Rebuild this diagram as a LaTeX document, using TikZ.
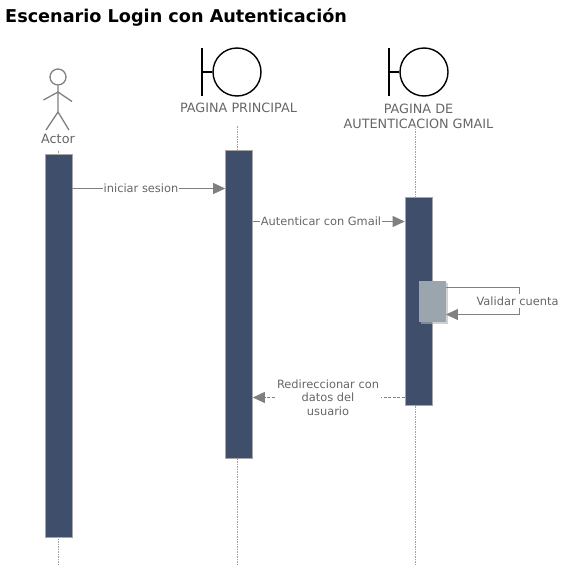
\documentclass[tikz,border=0pt]{standalone}
\usepackage{fontspec}
\setmainfont{DejaVu Sans}
\usetikzlibrary{arrows.meta,positioning,shadows}
\definecolor{barblue}{HTML}{3F4F6B}
\definecolor{blockgray}{HTML}{9AA5AE}
\definecolor{linegray}{HTML}{808080}
\definecolor{textgray}{HTML}{666666}
\tikzset{
    bar/.style={rectangle, draw=linegray!70, line width=0.6pt, fill=barblue, minimum width=27pt, inner sep=0pt},
    lifeline/.style={draw=linegray!75, dashed, dash pattern=on 1.5pt off 1pt, line width=0.8pt},
    msg/.style={draw=linegray, line width=0.8pt},
    msgarrow/.style={msg, -{Triangle[length=12pt,width=11pt]}},
    lbl/.style={text=textgray, font=\fontsize{11.4}{13.5}\selectfont, align=center, inner sep=0.5pt},
    headlbl/.style={lbl, font=\fontsize{12.8}{15}\selectfont},
    figure/.style={draw=linegray, line width=1.3pt},
    boundary/.style={draw=black, line width=1.4pt}
}
\begin{document}
\begin{tikzpicture}[x=1pt, y=-1pt]
    \useasboundingbox (0,0) rectangle (562,581);
    \def\ytop{126}
    \def\yend{566}
    \node(title) [anchor=west, inner sep=0pt, font=\fontsize{17.65}{20}\selectfont\bfseries] at (5,17) {Escenario Login con Autenticación};

    % actor
    \node(head) [circle, figure, minimum size=16pt, inner sep=0pt] at (58,77) {};
    \coordinate(hip) at (58,112);
    \coordinate(arml) at (43.5,100);
    \coordinate(armr) at (72,101.5);
    \coordinate(neck) at (58,92);
    \coordinate(legl) at (46,130);
    \coordinate(legr) at (69,130);
    \draw[figure] (head) -- (hip) (arml) -- (neck) -- (armr) (legl) -- (hip) -- (legr);

    % boundaries
    \foreach \name/\x in {bpp/237, bgm/424} {
        \node(\name) [circle, boundary, minimum size=48pt, inner sep=0pt] at (\x,72) {};
        \coordinate(\name t) at (\x-35,48);
        \coordinate(\name b) at (\x-35,96);
        \coordinate(\name m) at (\x-35,72);
        \draw[boundary] (\name t) -- (\name b) (\name m) -- (\name.west);
    }

    \node(actor) [headlbl] at (58,139) {Actor};
    \node(pp) [headlbl] at (238.5,108) {PAGINA PRINCIPAL};
    \node(gm) [headlbl] at (418.5,116) {PAGINA DE\\AUTENTICACION GMAIL};

    % lifelines
    \coordinate(top1) at (58,151);
    \coordinate(top2) at (237,\ytop);
    \coordinate(top3) at (415,\ytop);
    \coordinate(end1) at (58,\yend);
    \coordinate(end2) at (237,\yend);
    \coordinate(end3) at (415,\yend);
    \draw[lifeline] (top1) -- (end1);
    \draw[lifeline] (top2) -- (end2);
    \draw[lifeline] (top3) -- (end3);

    \node(b1) [bar, minimum height=383pt] at (58.5,345.5) {};
    \node(b2) [bar, minimum height=308pt] at (239,304) {};
    \node(b3) [bar, minimum height=208pt] at (418.5,301) {};
    \node(b4) [rectangle, fill=blockgray, minimum width=26.5pt, minimum height=41pt, inner sep=0pt, drop shadow={shadow xshift=2pt, shadow yshift=-2pt, fill=black!30, opacity=0.6}] at (432.5,301.5) {};

    % messages
    \node(m1) [lbl] at (141,188.5) {iniciar sesion};
    \draw[msg] (b1.east |- m1) -- (m1);
    \draw[msgarrow] (m1) -- (b2.west |- m1);

    \node(m2) [lbl] at (321,221.5) {Autenticar con Gmail};
    \draw[msg] (b2.east |- m2) -- (m2);
    \draw[msgarrow] (m2) -- (b3.west |- m2);

    \coordinate(c1) at (519,287);
    \coordinate(c2) at (519,314.5);
    \draw[msg] (b4.east |- c1) -- (c1) -- (c2);
    \draw[msgarrow] (c2) -- (b4.east |- c2);
    \node(m3) [lbl, fill=white, inner ysep=3pt] at (517.5,301) {Validar cuenta};

    \node(m4) [lbl, inner xsep=2pt] at (328,397.5) {Redireccionar con\\datos del\\usuario};
    \draw[msg, dashed, dash pattern=on 3pt off 1.5pt] (b3.west |- m4) -- (m4);
    \draw[msgarrow, dashed, dash pattern=on 3pt off 1.5pt] (m4) -- (b2.east |- m4);
\end{tikzpicture}
\end{document}
